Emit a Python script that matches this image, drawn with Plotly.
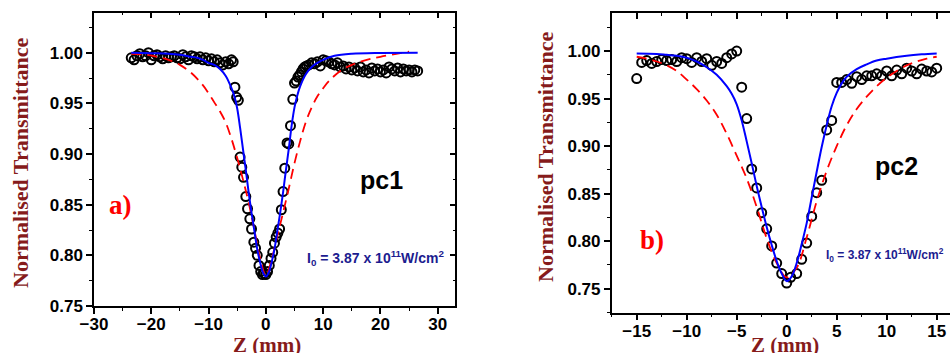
import plotly.graph_objects as go

# ---------------- Panel a) pc1 ----------------
za = [-23.5, -23.0, -22.5, -22.0, -21.5, -21.0, -20.5, -20.0, -19.5, -19.0, -18.5, -18.0,
      -17.5, -17.0, -16.5, -16.0, -15.5, -15.0, -14.5, -14.0, -13.5, -13.0, -12.5, -12.0,
      -11.5, -11.0, -10.5, -10.0, -9.5, -9.0, -8.5, -8.0, -7.5, -7.0, -6.5, -6.0, -5.7,
      -5.4, -5.1, -4.8, -4.5, -4.2, -3.9, -3.5, -3.2, -2.8, -2.5, -2.1, -1.8, -1.5, -1.2,
      -0.9, -0.6, -0.3, 0.0, 0.3, 0.6, 0.9, 1.2, 1.5, 1.8, 2.1, 2.4, 2.7, 3.0, 3.3, 3.7,
      4.0, 4.3, 4.7, 5.0, 5.3, 5.6, 5.9, 6.2, 6.5, 6.8, 7.1, 7.5, 8.0, 8.5, 9.0, 9.5, 10.0,
      10.5, 11.0, 11.5, 12.0, 12.5, 13.0, 13.5, 14.0, 14.5, 15.0, 15.5, 16.0, 16.5, 17.0,
      17.5, 18.0, 18.5, 19.0, 19.5, 20.0, 20.5, 21.0, 21.5, 22.0, 22.5, 23.0, 23.5, 24.0,
      24.5, 25.0, 25.5, 26.0, 26.5]
ta = [0.995, 0.993, 0.997, 0.999, 0.996, 0.997, 1.000, 0.993, 0.997, 0.998, 0.996, 0.994,
      0.997, 0.995, 0.996, 0.997, 0.995, 0.994, 0.998, 0.996, 0.993, 0.997, 0.996, 0.994,
      0.996, 0.993, 0.995, 0.992, 0.994, 0.991, 0.993, 0.990, 0.988, 0.991, 0.989, 0.993, 0.991,
      0.966, 0.956, 0.953, 0.897, 0.887, 0.877, 0.858, 0.846, 0.836, 0.826, 0.813, 0.807, 0.800, 0.790,
      0.784, 0.781, 0.782, 0.781, 0.784, 0.790, 0.797, 0.803, 0.812, 0.818, 0.822, 0.826, 0.845, 0.863, 0.886, 0.911,
      0.910, 0.928, 0.954, 0.970, 0.972, 0.976, 0.978, 0.981, 0.984, 0.986, 0.987, 0.988, 0.990, 0.989, 0.991, 0.987, 0.993,
      0.992, 0.991, 0.989, 0.988, 0.990, 0.986, 0.987, 0.984, 0.986, 0.983, 0.985, 0.982, 0.986, 0.981,
      0.983, 0.980, 0.985, 0.982, 0.984, 0.981, 0.983, 0.980, 0.986, 0.984, 0.982, 0.985, 0.981, 0.984,
      0.982, 0.983, 0.981, 0.983, 0.982]

za_blue = [-23.5, -20, -17, -15, -13, -12, -11, -10, -9, -8, -7, -6, -5.5, -5, -4.5, -4, -3.5, -3,
           -2.5, -2, -1.5, -1, -0.5, 0, 0.5, 1, 1.5, 2, 2.5, 3, 3.5, 4, 4.5, 5, 5.5, 6, 7, 8, 9,
           10, 12, 15, 20, 26.5]
ta_blue = [1.000, 0.9995, 0.999, 0.998, 0.996, 0.995, 0.993, 0.990, 0.988, 0.984, 0.977, 0.965,
           0.957, 0.945, 0.926, 0.905, 0.884, 0.862, 0.842, 0.824, 0.806, 0.793, 0.783, 0.779,
           0.783, 0.793, 0.806, 0.824, 0.842, 0.862, 0.884, 0.905, 0.928, 0.946, 0.958, 0.967,
           0.979, 0.986, 0.990, 0.993, 0.997, 0.999, 0.9998, 1.000]

za_red = [-23.5, -21, -19, -17, -15, -13, -11, -10, -9, -8, -7, -6, -5, -4, -3, -2, -1, 0,
          1, 2, 3, 4, 5, 6, 7, 8, 9, 10, 11, 13, 15, 17, 20, 25]
ta_red = [0.999, 0.998, 0.996, 0.993, 0.988, 0.980, 0.968, 0.960, 0.951, 0.942, 0.931, 0.915,
          0.896, 0.875, 0.852, 0.825, 0.797, 0.780, 0.796, 0.819, 0.842, 0.866, 0.891, 0.913,
          0.932, 0.946, 0.957, 0.965, 0.972, 0.982, 0.988, 0.992, 0.996, 1.001]

# ---------------- Panel b) pc2 ----------------
zb = [-15.0, -14.5, -14.0, -13.5, -13.0, -12.5, -12.0, -11.5, -11.0, -10.5, -10.0, -9.5, -9.0,
      -8.5, -8.0, -7.5, -7.0, -6.5, -6.0, -5.5, -5.0, -4.5, -4.0, -3.5, -3.0, -2.5, -2.0, -1.5,
      -1.0, -0.5, 0.0, 0.4, 1.0, 1.5, 2.0, 2.5, 3.0, 3.5, 4.0, 4.5, 5.0, 5.5, 6.0, 6.5, 7.0,
      7.5, 8.0, 8.5, 9.0, 9.5, 10.0, 10.5, 11.0, 11.5, 12.0, 12.5, 13.0, 13.5, 14.0, 14.5, 15.0]
tb = [0.971, 0.988, 0.990, 0.987, 0.989, 0.991, 0.990, 0.991, 0.989, 0.993, 0.992, 0.988, 0.993,
      0.989, 0.992, 0.985, 0.989, 0.987, 0.993, 0.997, 1.000, 0.962, 0.929, 0.876, 0.856, 0.830, 0.813, 0.795,
      0.777, 0.766, 0.756, 0.762, 0.766, 0.781, 0.798, 0.826, 0.851, 0.864, 0.917, 0.927, 0.967, 0.967, 0.970, 0.966, 0.973,
      0.970, 0.974, 0.974, 0.976, 0.974, 0.979, 0.974, 0.980, 0.976, 0.982, 0.979, 0.976, 0.981, 0.979, 0.978, 0.982]

zb_blue = [-15, -13, -12, -11, -10, -9, -8, -7, -6, -5.5, -5, -4.5, -4, -3.5, -3, -2.5, -2, -1.5,
           -1, -0.5, 0, 0.5, 1, 1.5, 2, 2.5, 3, 3.5, 4, 4.5, 5, 5.5, 6, 7, 8, 9, 10, 12, 13.5, 15]
tb_blue = [0.9975, 0.997, 0.996, 0.995, 0.993, 0.989, 0.983, 0.975, 0.963, 0.955, 0.944, 0.927,
           0.905, 0.882, 0.858, 0.836, 0.815, 0.796, 0.779, 0.766, 0.758, 0.763, 0.777, 0.797,
           0.819, 0.846, 0.873, 0.899, 0.922, 0.942, 0.956, 0.966, 0.973, 0.981, 0.986, 0.990,
           0.992, 0.995, 0.9965, 0.9975]

zb_red = [-15, -14, -13, -12, -11, -10, -9, -8, -7, -6, -5, -4, -3, -2, -1, 0, 1, 2, 3, 4, 5, 6,
          7, 8, 9, 10, 11, 12, 13, 14, 15]
tb_red = [0.994, 0.992, 0.989, 0.985, 0.979, 0.970, 0.960, 0.948, 0.933, 0.913, 0.890, 0.866,
          0.836, 0.803, 0.777, 0.762, 0.772, 0.804, 0.842, 0.874, 0.900, 0.922, 0.939, 0.952,
          0.963, 0.972, 0.979, 0.985, 0.989, 0.992, 0.994]

xticks_a = [-30, -20, -10, 0, 10, 20, 30]
xticks_b = [-15, -10, -5, 0, 5, 10, 15]
yticks = [0.75, 0.80, 0.85, 0.90, 0.95, 1.00]

DARKRED = "#861B1B"
NAVY = "#1C1C8F"
SERIF = "Liberation Serif"
SANS = "Liberation Sans"

fig = go.Figure()

def add_panel(z, t, zr, tr, zbl, tbl, xa, ya):
    fig.add_trace(go.Scatter(x=z, y=t, mode="markers", xaxis=xa, yaxis=ya,
                             marker=dict(symbol="circle-open", size=9, color="black",
                                         line=dict(width=2, color="black")),
                             showlegend=False))
    fig.add_trace(go.Scatter(x=zr, y=tr, mode="lines", xaxis=xa, yaxis=ya, line_shape="spline",
                             line=dict(color="#FF0000", width=1.8, dash="10px,6px"), showlegend=False))
    fig.add_trace(go.Scatter(x=zbl, y=tbl, mode="lines", xaxis=xa, yaxis=ya, line_shape="spline",
                             line=dict(color="#0000FF", width=2), showlegend=False))

add_panel(za, ta, za_red, ta_red, za_blue, ta_blue, "x", "y")
add_panel(zb, tb, zb_red, tb_red, zb_blue, tb_blue, "x2", "y2")

# invisible traces to instantiate mirror tick axes
fig.add_trace(go.Scatter(x=[None], y=[None], xaxis="x3", yaxis="y", showlegend=False, hoverinfo="skip"))
fig.add_trace(go.Scatter(x=[None], y=[None], xaxis="x", yaxis="y3", showlegend=False, hoverinfo="skip"))
fig.add_trace(go.Scatter(x=[None], y=[None], xaxis="x4", yaxis="y2", showlegend=False, hoverinfo="skip"))

tickfont = dict(family=SANS, size=17, color="black", weight="bold")
base = dict(showgrid=False, zeroline=False, showline=True, linecolor="black", linewidth=1.5,
            ticks="outside", ticklen=6, tickwidth=1.5, tickcolor="black", tickfont=tickfont)

xa_range = [-30, 33.07]
ya_range = [0.75, 1.0395]
xb_range = [-17.5, 16.33]
yb_range = [0.7248, 1.0397]

fig.update_layout(
    width=950, height=353, autosize=False,
    margin=dict(l=0, r=0, t=0, b=0, autoexpand=False),
    paper_bgcolor="white", plot_bgcolor="white",
    xaxis=dict(**base, domain=[0.09895, 0.47926], range=xa_range, anchor="y",
               tickvals=xticks_a, mirror=True, ticklabelstandoff=-4,
               minor=dict(dtick=5, tick0=0, ticks="outside", ticklen=3, tickwidth=1.2, tickcolor="black")),
    yaxis=dict(**base, domain=[0.13314, 0.96402], range=ya_range, anchor="x",
               tickvals=yticks, tickformat=".2f", mirror=True,
               minor=dict(dtick=0.025, tick0=0.75, ticks="outside", ticklen=3, tickwidth=1.2, tickcolor="black")),
    xaxis2=dict(**base, domain=[0.64389, 1.0], range=xb_range, anchor="y2",
                tickvals=xticks_b, ticklabelstandoff=-4,
                minor=dict(dtick=2.5, tick0=0, ticks="outside", ticklen=3, tickwidth=1.2, tickcolor="black")),
    yaxis2=dict(**base, domain=[0.11416, 0.96232], range=yb_range, anchor="x2",
                tickvals=yticks, tickformat=".2f",
                minor=dict(dtick=0.025, tick0=0.75, ticks="outside", ticklen=3, tickwidth=1.2, tickcolor="black")),
    xaxis3=dict(overlaying="x", side="top", anchor="y", range=xa_range, showgrid=False, zeroline=False,
                showline=True, linecolor="black", linewidth=1.5,
                ticks="inside", ticklen=6, tickwidth=1.5, tickcolor="black", tickvals=xticks_a,
                showticklabels=False,
                minor=dict(dtick=5, tick0=0, ticks="inside", ticklen=3, tickwidth=1.2, tickcolor="black")),
    yaxis3=dict(overlaying="y", side="right", anchor="x", range=ya_range, showgrid=False, zeroline=False,
                showline=True, linecolor="black", linewidth=1.5,
                ticks="inside", ticklen=6, tickwidth=1.5, tickcolor="black", tickvals=yticks,
                showticklabels=False,
                minor=dict(dtick=0.025, tick0=0.75, ticks="inside", ticklen=3, tickwidth=1.2, tickcolor="black")),
    xaxis4=dict(overlaying="x2", side="top", anchor="y2", range=xb_range, showgrid=False, zeroline=False,
                showline=True, linecolor="black", linewidth=1.5,
                ticks="inside", ticklen=6, tickwidth=1.5, tickcolor="black", tickvals=xticks_b,
                showticklabels=False,
                minor=dict(dtick=2.5, tick0=0, ticks="inside", ticklen=3, tickwidth=1.2, tickcolor="black")),
)

ann = []
ytitle_font = dict(family=SERIF, size=22, color=DARKRED, weight="bold")
ann.append(dict(text="Normalised Transmittance", x=20 / 950, y=(353 - 163) / 353, xref="paper", yref="paper",
                textangle=-90, showarrow=False, font=ytitle_font, xanchor="center", yanchor="middle"))
ann.append(dict(text="Normalised Transmittance", x=545 / 950, y=(353 - 157) / 353, xref="paper", yref="paper",
                textangle=-90, showarrow=False, font=ytitle_font, xanchor="center", yanchor="middle"))
xtitle_font = dict(family=SERIF, size=21, color=DARKRED, weight="bold")
ann.append(dict(text="Z (mm)", x=267 / 950, y=(353 - 345) / 353, xref="paper", yref="paper",
                showarrow=False, font=xtitle_font, xanchor="center", yanchor="middle"))
ann.append(dict(text="Z (mm)", x=785 / 950, y=(353 - 345) / 353, xref="paper", yref="paper",
                showarrow=False, font=xtitle_font, xanchor="center", yanchor="middle"))
pc_font = dict(family=SANS, size=25, color="black", weight="bold")
ann.append(dict(text="pc1", x=381 / 950, y=(353 - 180) / 353, xref="paper", yref="paper",
                showarrow=False, font=pc_font, xanchor="center", yanchor="middle"))
ann.append(dict(text="pc2", x=896 / 950, y=(353 - 166) / 353, xref="paper", yref="paper",
                showarrow=False, font=pc_font, xanchor="center", yanchor="middle"))
lab_font = dict(family=SERIF, size=27, color="#FF0000", weight="bold")
ann.append(dict(text="a)", x=120.5 / 950, y=(353 - 205) / 353, xref="paper", yref="paper",
                showarrow=False, font=lab_font, xanchor="center", yanchor="middle"))
ann.append(dict(text="b)", x=652 / 950, y=(353 - 240) / 353, xref="paper", yref="paper",
                showarrow=False, font=lab_font, xanchor="center", yanchor="middle"))
i0 = "I<sub>0</sub> = 3.87 x 10<sup>11</sup>W/cm<sup>2</sup>"
ann.append(dict(text=i0, x=446 / 950, y=(353 - 258) / 353, xref="paper", yref="paper",
                showarrow=False, font=dict(family=SANS, size=14, color=NAVY, weight="bold"),
                xanchor="right", yanchor="middle"))
ann.append(dict(text=i0, x=946 / 950, y=(353 - 255) / 353, xref="paper", yref="paper",
                showarrow=False, font=dict(family=SANS, size=12, color=NAVY, weight="bold"),
                xanchor="right", yanchor="middle"))
fig.update_layout(annotations=ann)

fig.write_html("out.html")
